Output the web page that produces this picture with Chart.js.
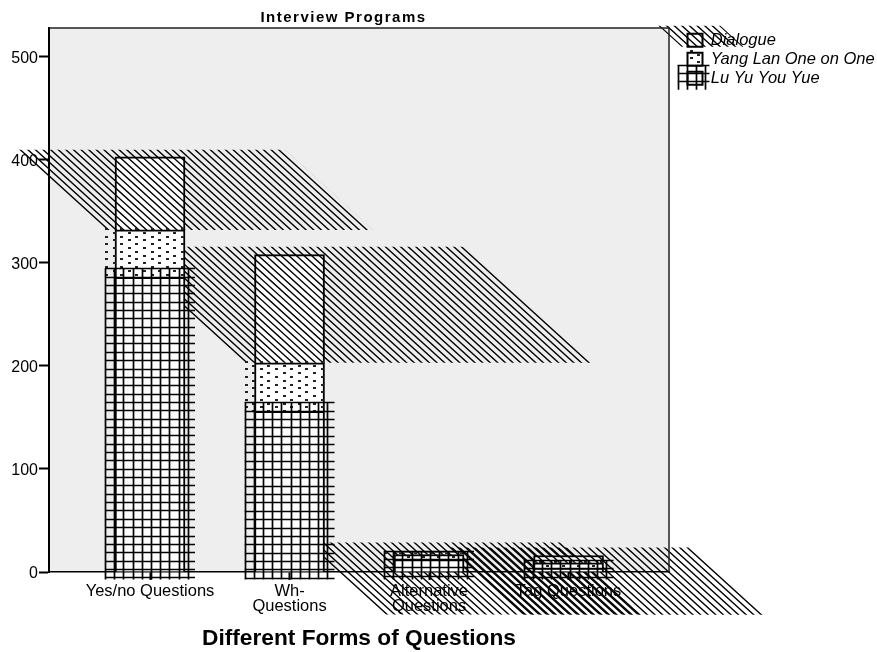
<!DOCTYPE html>
<html>
<head>
<meta charset="utf-8">
<title>Interview Programs</title>
<script src="https://cdn.jsdelivr.net/npm/chart.js@4"></script>
<style>
  html, body { margin: 0; padding: 0; background: #fff; }
  canvas { display: block; }
</style>
</head>
<body>
<canvas id="chart" width="877" height="652"></canvas>
<script>
const categories = ['Yes/no Questions', ['Wh-', 'Questions'], ['Alternative', 'Questions'], 'Tag Questions'];
const categoryIndex = [0, 1, 2, 3];
const luYuYouYue = [286, 156, 12, 3];
const yangLanOneOnOne = [46, 47, 5, 6];
const dialogue = [71, 105, 3, 7];

// the SPSS fill patterns run past the bars, these are the overhangs in pixels
const hatchSpill = [
  {up: 7, drop: 0, width: 268, phase: 0},
  {up: 8, drop: 0, width: 350, phase: 0},
  {up: 9, drop: 60, width: 260, phase: 0},
  {up: 8, drop: 52, width: 240, phase: 1.5}
];
const FONT = '"Liberation Sans", Arial, sans-serif';
const INK = '#000';
const SLOPE = 1.1;

function toPoints(values) {
  return values.map((v, i) => ({x: categoryIndex[i], y: v}));
}

function hatch(ctx, left, width, top, bottom, phase) {
  // parallelogram leaning left going up, left/width measured on the bottom edge
  const shift = (bottom - top) * SLOPE;
  ctx.save();
  ctx.beginPath();
  ctx.moveTo(left, bottom);
  ctx.lineTo(left + width, bottom);
  ctx.lineTo(left + width - shift, top);
  ctx.lineTo(left - shift, top);
  ctx.closePath();
  ctx.clip();
  hatchLines(ctx, left - shift, left + width, top, bottom, phase);
  ctx.restore();
}

function hatchRect(ctx, x, y, w, h, phase) {
  ctx.save();
  ctx.beginPath();
  ctx.rect(x, y, w, h);
  ctx.clip();
  hatchLines(ctx, x, x + w, y, y + h, phase);
  ctx.restore();
}

function hatchLines(ctx, x0, x1, top, bottom, phase) {
  const step = 7.6;
  ctx.strokeStyle = INK;
  ctx.lineWidth = 1.4;
  ctx.beginPath();
  // lines are counted from y = 0 so they carry on across the bar edge
  const start = Math.floor((x0 - bottom * SLOPE) / step) * step + phase;
  for (let x = start; x < x1 - top * SLOPE; x += step) {
    ctx.moveTo(x, 0);
    ctx.lineTo(x + 652 * SLOPE, 652);
  }
  ctx.stroke();
}

function dots(ctx, x, y, w, h) {
  const step = 7.6;
  ctx.save();
  ctx.beginPath();
  ctx.rect(x, y, w, h);
  ctx.clip();
  ctx.fillStyle = '#222';
  let col = 0;
  for (let cx = x; cx < x + w; cx += step) {
    const off = col % 2 ? step / 2 : 0;
    for (let cy = y + off; cy < y + h; cy += step) {
      ctx.fillRect(Math.round(cx), Math.round(cy), 3, 2);
    }
    col++;
  }
  ctx.restore();
}

function grid(ctx, x, y, w, h) {
  ctx.strokeStyle = INK;
  ctx.lineWidth = 1.7;
  ctx.beginPath();
  for (let gx = x; gx <= x + w; gx += 9.2) {
    ctx.moveTo(Math.round(gx) + 0.5, y);
    ctx.lineTo(Math.round(gx) + 0.5, y + h);
  }
  for (let gy = y; gy <= y + h; gy += 8.35) {
    ctx.moveTo(x, Math.round(gy) + 0.5);
    ctx.lineTo(x + w, Math.round(gy) + 0.5);
  }
  ctx.stroke();
}

const spillPlugin = {
  id: 'spill',
  afterLayout(chart) {
    // title sits left of the plot centre, legend is tucked right against the plot
    const title = chart.titleBlock;
    title.left = 260;
    title.right = 427;
    if (!title.spaced) {
      // the title letters are set wide in the original
      const drawTitle = title.draw;
      title.draw = function() {
        chart.ctx.save();
        chart.ctx.letterSpacing = '1.5px';
        drawTitle.call(title);
        chart.ctx.restore();
      };
      title.spaced = true;
    }
    chart.legend.left = 685;
    chart.legend.right = 877;
    chart.legend.top = 29.5;
  },
  beforeDatasetsDraw(chart) {
    const ctx = chart.ctx;
    chart.getDatasetMeta(2).data.forEach((el, i) => {
      const s = hatchSpill[i];
      const left = el.x - el.width / 2 - 10;
      hatch(ctx, left, s.width, el.y - s.up, el.base + s.drop, s.phase);
    });
    chart.getDatasetMeta(1).data.forEach(el => {
      dots(ctx, el.x - el.width / 2 - 10, el.y - 2, el.width + 10, el.base - el.y + 2);
    });
  },
  afterDatasetsDraw(chart) {
    const ctx = chart.ctx;
    chart.getDatasetMeta(2).data.forEach((el, i) => {
      hatchRect(ctx, el.x - el.width / 2, el.y, el.width, el.base - el.y, hatchSpill[i].phase);
    });
    chart.getDatasetMeta(1).data.forEach(el => {
      dots(ctx, el.x - el.width / 2 - 10, el.y - 2, el.width + 10, el.base - el.y + 2);
    });
    chart.getDatasetMeta(0).data.forEach(el => {
      grid(ctx, el.x - el.width / 2 - 10, el.y - 9, el.width + 20, el.base - el.y + 17);
    });

    // legend swatches get the same overhanging fills
    const boxes = chart.legend.legendHitBoxes;
    const boxTop = i => boxes[i].top + 1.75;
    const boxLeft = boxes[0].left;
    hatch(ctx, boxLeft - 6, 62, boxTop(0) - 8, boxTop(0) + 13, 0);
    dots(ctx, boxLeft + 2, boxTop(1) - 3, 13, 16);
    grid(ctx, boxLeft - 10, boxTop(2) - 7, 32, 25);

    // plot frame, top and right (left and bottom are the axis borders)
    const area = chart.chartArea;
    ctx.strokeStyle = '#222';
    ctx.lineWidth = 1.5;
    ctx.beginPath();
    ctx.moveTo(area.left, area.top);
    ctx.lineTo(area.right, area.top);
    ctx.lineTo(area.right, area.bottom);
    ctx.stroke();
  },
  beforeDraw(chart) {
    const area = chart.chartArea;
    chart.ctx.fillStyle = '#eeeeee';
    chart.ctx.fillRect(area.left, area.top, area.right - area.left, area.bottom - area.top);
  }
};

function series(label, values) {
  return {
    label: label,
    data: toPoints(values),
    backgroundColor: '#fff',
    borderColor: INK,
    borderWidth: 2,
    barThickness: 70
  };
}

new Chart(document.getElementById('chart'), {
  type: 'bar',
  data: {
    datasets: [
      series('Lu Yu You Yue', luYuYouYue),
      series('Yang Lan One on One', yangLanOneOnOne),
      series('Dialogue', dialogue)
    ]
  },
  options: {
    responsive: false,
    animation: false,
    layout: {padding: {left: 0, right: 28, top: 0, bottom: 0}},
    plugins: {
      tooltip: {enabled: false},
      title: {
        display: true,
        text: 'Interview Programs',
        color: '#000',
        font: {family: FONT, size: 15, weight: 'bold'},
        padding: {top: 9, bottom: 1}
      },
      legend: {
        position: 'right',
        align: 'start',
        reverse: true,
        maxWidth: 180,
        labels: {
          boxWidth: 15,
          boxHeight: 13,
          padding: 2.5,
          color: '#000',
          font: {family: FONT, size: 16.5, style: 'italic'}
        }
      }
    },
    scales: {
      x: {
        type: 'linear',
        offset: false,
        stacked: true,
        min: -0.724,
        max: 3.72,
        afterFit(scale) { scale.height = 80; },
        grid: {display: true, offset: false, drawOnChartArea: false, tickLength: 8, tickWidth: 2, tickColor: '#000'},
        border: {display: true, color: '#000', width: 1.5},
        ticks: {
          stepSize: 1,
          includeBounds: false,
          autoSkip: false,
          maxRotation: 0,
          padding: 4,
          color: '#000',
          font: {family: FONT, size: 16.5, lineHeight: 0.92},
          callback: v => categories[v]
        },
        title: {
          display: true,
          text: 'Different Forms of Questions',
          color: '#000',
          font: {family: FONT, size: 22.7, weight: 'bold'},
          padding: {top: 0, bottom: 0}
        }
      },
      y: {
        stacked: true,
        min: 0,
        max: 528,
        afterFit(scale) { scale.width = 49; },
        grid: {display: true, drawOnChartArea: false, tickLength: 10, tickWidth: 2, tickColor: '#000'},
        border: {display: true, color: '#000', width: 2},
        ticks: {
          stepSize: 100,
          includeBounds: false,
          padding: 1,
          labelOffset: 1.5,
          color: '#000',
          font: {family: FONT, size: 16}
        }
      }
    }
  },
  plugins: [spillPlugin]
});
</script>
</body>
</html>
